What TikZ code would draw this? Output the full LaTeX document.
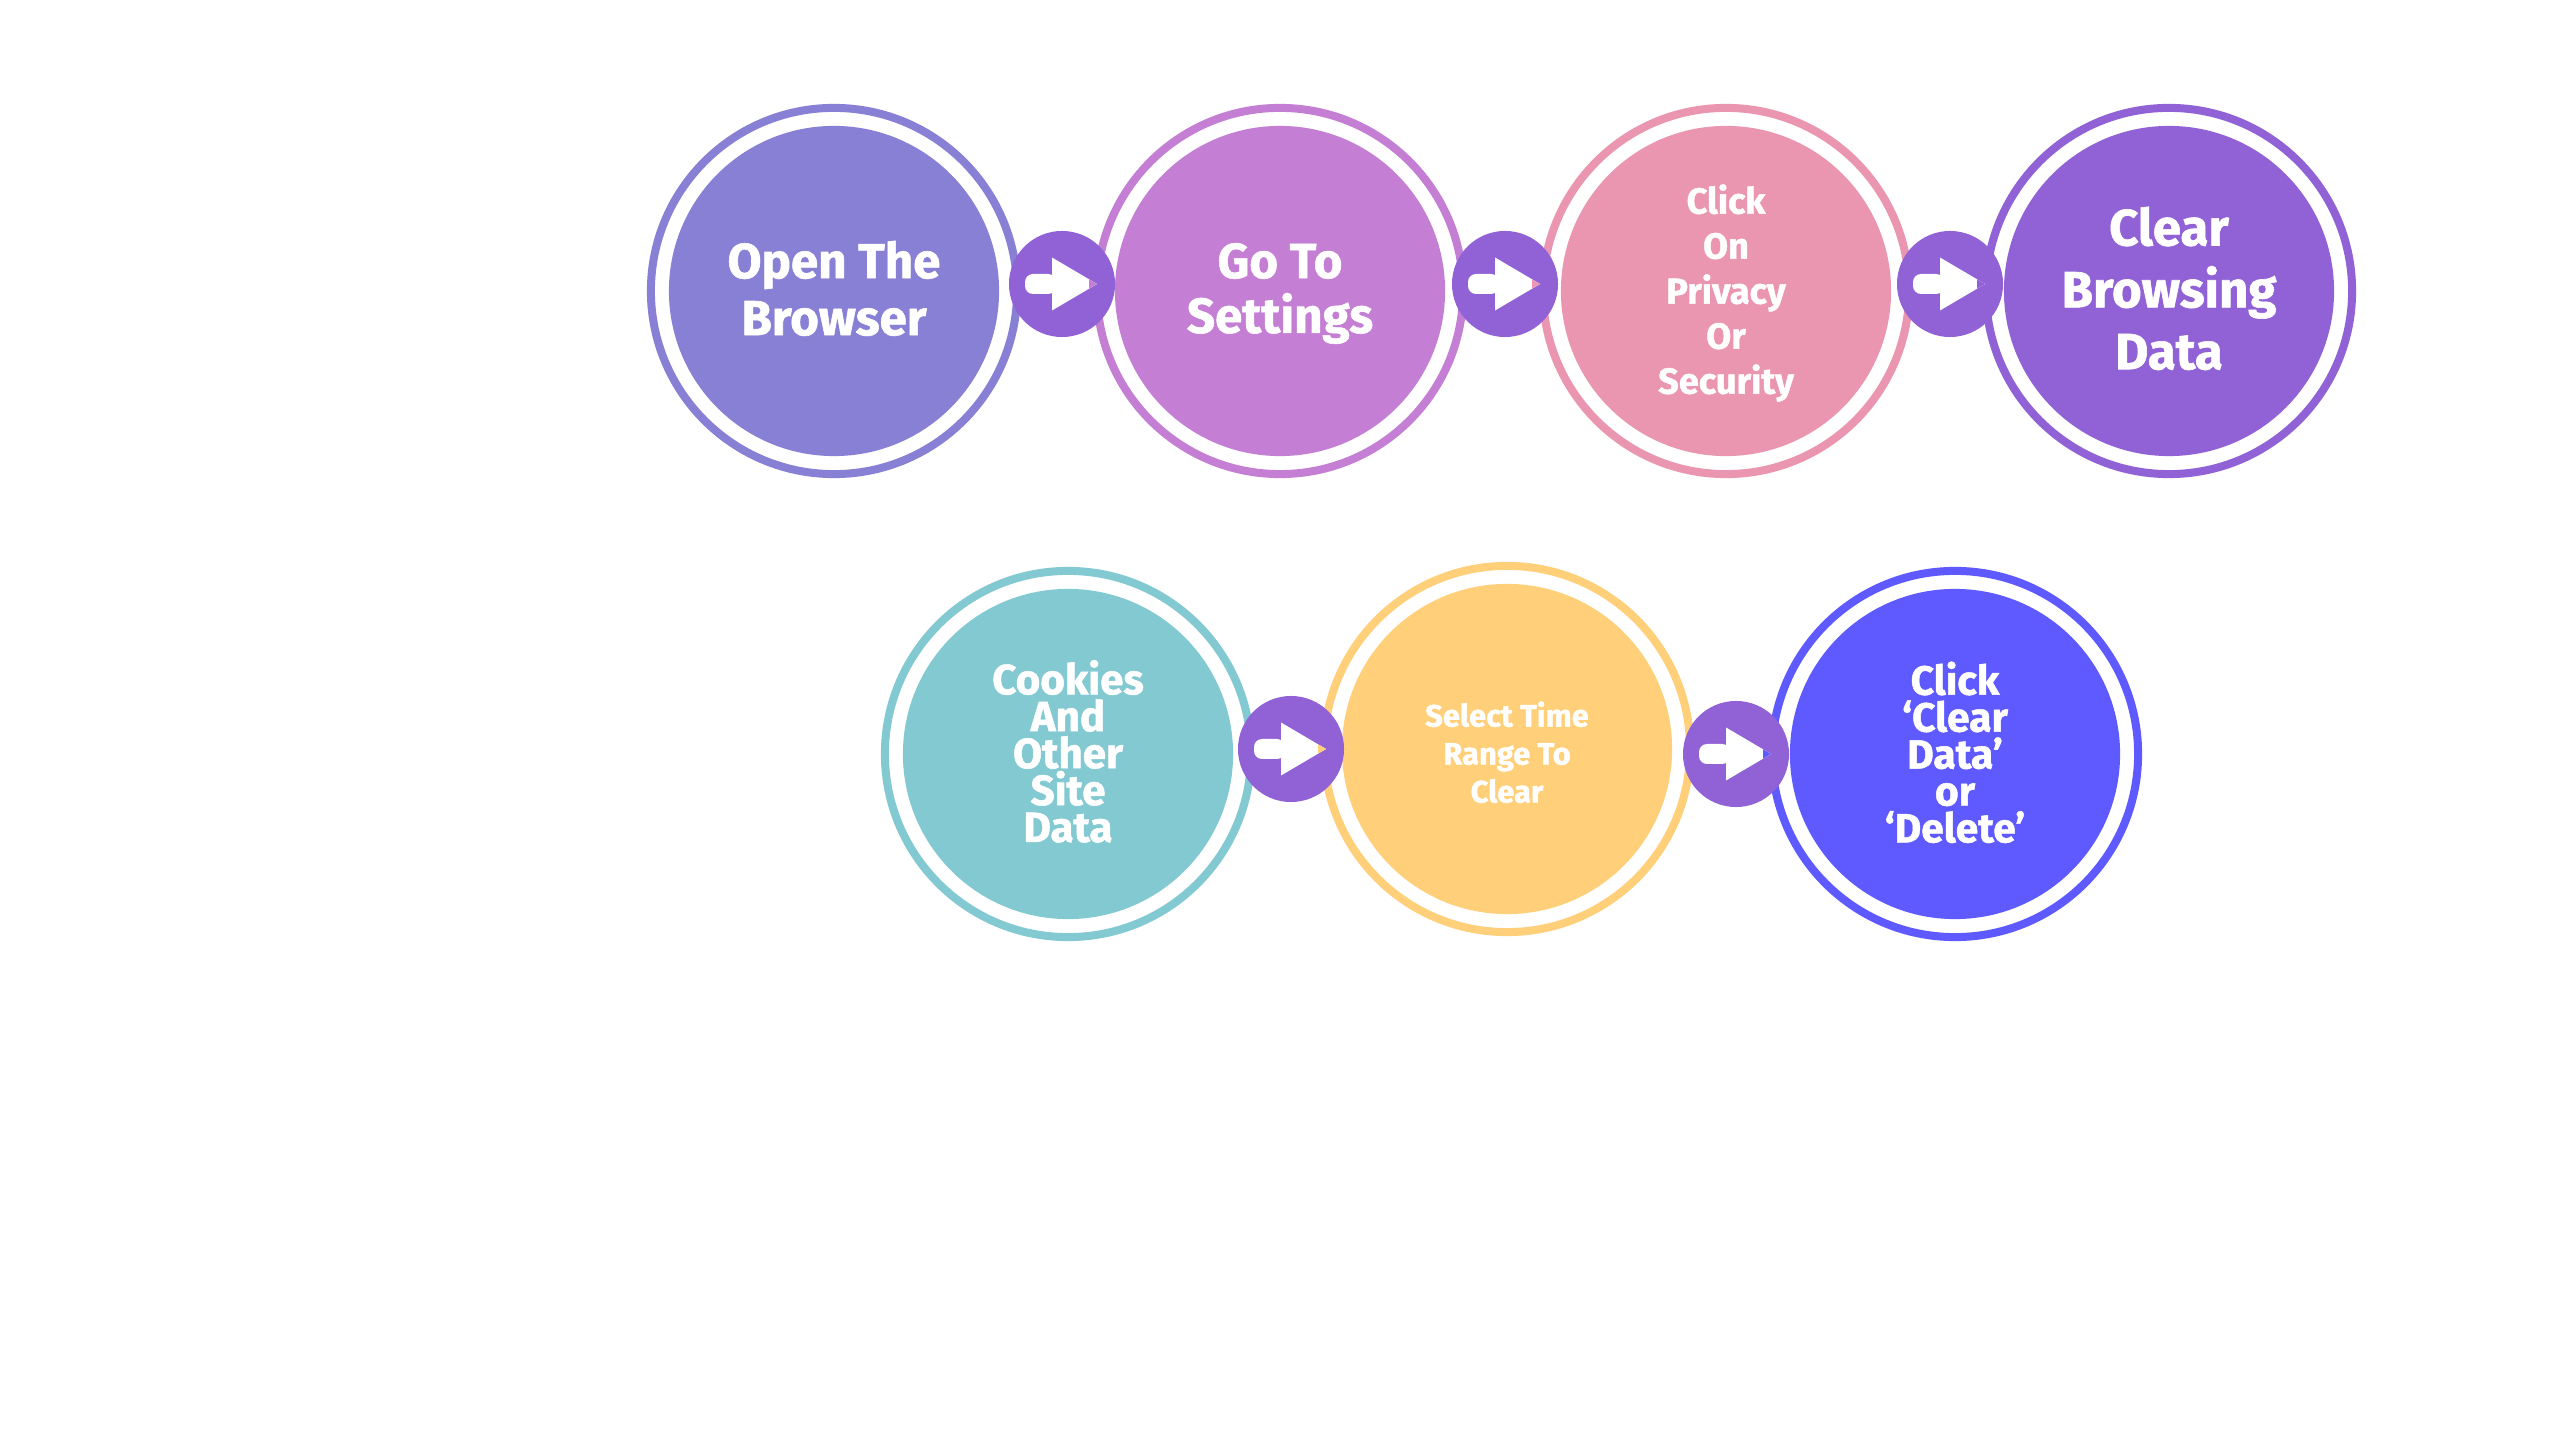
\documentclass[tikz,border=0pt]{standalone}
\usepackage{fontspec}
\setmainfont{Fira Sans}[BoldFeatures={FakeBold=1.2}]
\definecolor{cA}{HTML}{8880D4}
\definecolor{cB}{HTML}{C47ED4}
\definecolor{cC}{HTML}{EB96B0}
\definecolor{cD}{HTML}{9162D6}
\definecolor{cE}{HTML}{82C9D1}
\definecolor{cF}{HTML}{FFCF7A}
\definecolor{cG}{HTML}{5F5AFF}
\definecolor{discc}{HTML}{9162D6}
\newcommand\drawarrowicon[2]{%
  \fill[white, rounded corners=0.8mm] ([shift={(-37,-10)}]#1.center) rectangle ([shift={(-6,10)}]#1.center);
  \fill[white] ([shift={(-10,-26.5)}]#1.center) -- ([shift={(35,0)}]#1.center) -- ([shift={(-10,26.5)}]#1.center) -- cycle;
  \fill[#2] ([shift={(27,-4.7)}]#1.center) -- ([shift={(35,0)}]#1.center) -- ([shift={(27,4.7)}]#1.center) -- cycle;
}
\begin{document}
\begin{tikzpicture}[x=0.01cm,y=-0.01cm,
  ringst/.style={circle, draw=#1, line width=0.8mm, minimum size=3.66cm, inner sep=0pt},
  corest/.style={circle, fill=#1, minimum size=3.30cm, inner sep=0pt},
  label/.style 2 args={text=white, align=center, inner sep=0pt, text depth=0pt,
    font=\bfseries\fontsize{#1}{#2}\selectfont},
  discst/.style={circle, fill=discc, minimum size=1.06cm, inner sep=0pt}]
\useasboundingbox (0,0) rectangle (2560,1440);
\fill[white] (0,0) rectangle (2560,1440);
% row 1
\node[ringst=cA] (r1) at (834,291) {};
\node[corest=cA] (s1) at (r1.center) {};
\node[label={14}{16.2}] (t1) at (834,288) {Open The\\Browser};
\node[ringst=cB] (r2) at (1280,291) {};
\node[corest=cB] (s2) at (r2.center) {};
\node[label={14}{15.6}] (t2) at (1280,288) {Go To\\Settings};
\node[ringst=cC] (r3) at (1726,291) {};
\node[corest=cC] (s3) at (r3.center) {};
\node[label={10.3}{12.8}] (t3) at (1726,289) {Click\\On\\Privacy\\Or\\Security};
\node[ringst=cD] (r4) at (2169,291) {};
\node[corest=cD] (s4) at (r4.center) {};
\node[label={14.5}{17.6}] (t4) at (2169,288) {Clear\\Browsing\\Data};
% row 2
\node[ringst=cE] (r5) at (1068,754) {};
\node[corest=cE] (s5) at (r5.center) {};
\node[label={12}{10.5}] (t5) at (1068,751) {Cookies\\And\\Other\\Site\\Data};
\node[ringst=cF] (r6) at (1507,749) {};
\node[corest=cF] (s6) at (r6.center) {};
\node[label={8.8}{10.8}] (t6) at (1507,752) {Select Time\\Range To\\Clear};
\node[ringst=cG] (r7) at (1955,754) {};
\node[corest=cG] (s7) at (r7.center) {};
\node[label={11.6}{10.5}] (t7) at (1955,752) {Click\\‘Clear\\Data’\\or\\‘Delete’};
% connector discs
\node[discst] (a1) at (1062,284) {};
\node[discst] (a2) at (1505,284) {};
\node[discst] (a3) at (1950,284) {};
\node[discst] (a4) at (1291,749) {};
\node[discst] (a5) at (1736,754) {};
\drawarrowicon{a1}{cB}
\drawarrowicon{a2}{cC}
\drawarrowicon{a3}{cD}
\drawarrowicon{a4}{cF}
\drawarrowicon{a5}{cG}
\end{tikzpicture}
\end{document}
